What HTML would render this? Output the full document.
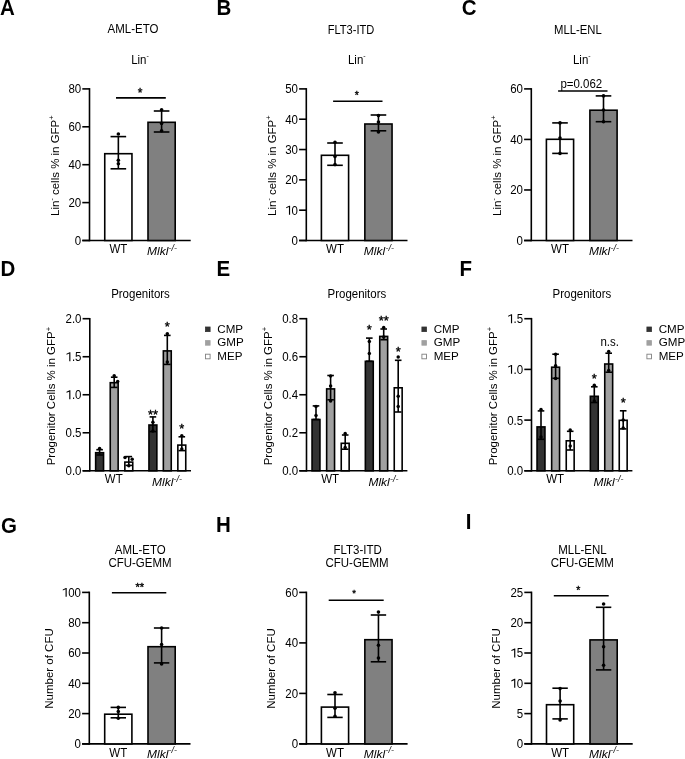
<!DOCTYPE html>
<html><head><meta charset="utf-8"><style>
html,body{margin:0;padding:0;background:#fff;}
svg{display:block;}
#wrap{will-change:transform;width:685px;height:759px;}
text{font-family:"Liberation Sans", sans-serif;fill:#000;}
</style></head><body>
<div id="wrap"><svg width="685" height="759" viewBox="0 0 685 759">
<rect x="0" y="0" width="685" height="759" fill="#fff"/>
<text transform="translate(0.00,14.60) scale(1,1.04)" font-size="20.5" text-anchor="start" font-weight="bold">A</text>
<text transform="translate(216.40,14.60) scale(1,1.04)" font-size="20.5" text-anchor="start" font-weight="bold">B</text>
<text transform="translate(461.80,14.60) scale(1,1.04)" font-size="20.5" text-anchor="start" font-weight="bold">C</text>
<line x1="89.50" y1="88.10" x2="89.50" y2="241.30" stroke="#000" stroke-width="1.6"/>
<line x1="82.30" y1="240.50" x2="190.70" y2="240.50" stroke="#000" stroke-width="1.6"/>
<line x1="82.30" y1="240.50" x2="89.50" y2="240.50" stroke="#000" stroke-width="1.6"/>
<text transform="translate(74.81,244.95) scale(1,1.08)" font-size="11.5" text-anchor="start" >0</text>
<line x1="82.30" y1="202.60" x2="89.50" y2="202.60" stroke="#000" stroke-width="1.6"/>
<text transform="translate(68.41,207.05) scale(1,1.08)" font-size="11.5" text-anchor="start" >2</text>
<text transform="translate(74.81,207.05) scale(1,1.08)" font-size="11.5" text-anchor="start" >0</text>
<line x1="82.30" y1="164.70" x2="89.50" y2="164.70" stroke="#000" stroke-width="1.6"/>
<text transform="translate(68.41,169.15) scale(1,1.08)" font-size="11.5" text-anchor="start" >4</text>
<text transform="translate(74.81,169.15) scale(1,1.08)" font-size="11.5" text-anchor="start" >0</text>
<line x1="82.30" y1="126.80" x2="89.50" y2="126.80" stroke="#000" stroke-width="1.6"/>
<text transform="translate(68.41,131.25) scale(1,1.08)" font-size="11.5" text-anchor="start" >6</text>
<text transform="translate(74.81,131.25) scale(1,1.08)" font-size="11.5" text-anchor="start" >0</text>
<line x1="82.30" y1="88.90" x2="89.50" y2="88.90" stroke="#000" stroke-width="1.6"/>
<text transform="translate(68.41,93.35) scale(1,1.08)" font-size="11.5" text-anchor="start" >8</text>
<text transform="translate(74.81,93.35) scale(1,1.08)" font-size="11.5" text-anchor="start" >0</text>
<text transform="translate(107.60,33.00) scale(1,1.08)" font-size="11.5" text-anchor="start" >AML-ETO</text>
<text transform="translate(140.00,63.70) scale(1,1.08)" font-size="11.5" text-anchor="middle" >Lin<tspan font-size="7" dy="-5.1">-</tspan></text>
<text transform="translate(58.90,165.60) rotate(-90) scale(1,1.03)" font-size="11.5" text-anchor="middle">Lin<tspan font-size="7" dy="-4.5">-</tspan><tspan dy="4.5"> cells % in GFP</tspan><tspan font-size="7.6" dy="-4.5">+</tspan></text>
<rect x="104.75" y="153.70" width="27.20" height="86.80" fill="#ffffff" stroke="#000" stroke-width="1.6"/>
<rect x="148.00" y="122.30" width="27.20" height="118.20" fill="#808080" stroke="#000" stroke-width="1.6"/>
<line x1="118.35" y1="136.60" x2="118.35" y2="168.80" stroke="#000" stroke-width="1.6"/>
<line x1="110.55" y1="136.60" x2="126.15" y2="136.60" stroke="#000" stroke-width="1.6"/>
<line x1="110.55" y1="168.80" x2="126.15" y2="168.80" stroke="#000" stroke-width="1.6"/>
<line x1="161.60" y1="111.00" x2="161.60" y2="132.00" stroke="#000" stroke-width="1.6"/>
<line x1="153.80" y1="111.00" x2="169.40" y2="111.00" stroke="#000" stroke-width="1.6"/>
<line x1="153.80" y1="132.00" x2="169.40" y2="132.00" stroke="#000" stroke-width="1.6"/>
<circle cx="118.35" cy="134.00" r="1.8" fill="#000"/>
<circle cx="118.35" cy="160.20" r="1.8" fill="#000"/>
<circle cx="118.35" cy="163.70" r="1.8" fill="#000"/>
<circle cx="161.60" cy="109.80" r="1.8" fill="#000"/>
<circle cx="161.60" cy="123.40" r="1.8" fill="#000"/>
<circle cx="161.60" cy="130.80" r="1.8" fill="#000"/>
<text transform="translate(118.35,252.70) scale(1,1.08)" font-size="11.5" text-anchor="middle" >WT</text>
<text transform="translate(147.00,255.30) scale(1,0.95)" font-size="12" font-style="italic">Mlkl<tspan font-size="9" dy="-4.6" dx="0.3">-/-</tspan></text>
<line x1="116.00" y1="97.90" x2="165.80" y2="97.90" stroke="#000" stroke-width="1.6"/>
<text transform="translate(140.20,96.56) scale(1,1)" font-size="12" text-anchor="middle" stroke="#000" stroke-width="0.35">*</text>
<line x1="306.30" y1="88.10" x2="306.30" y2="241.30" stroke="#000" stroke-width="1.6"/>
<line x1="299.10" y1="240.50" x2="407.50" y2="240.50" stroke="#000" stroke-width="1.6"/>
<line x1="299.10" y1="240.50" x2="306.30" y2="240.50" stroke="#000" stroke-width="1.6"/>
<text transform="translate(291.61,244.95) scale(1,1.08)" font-size="11.5" text-anchor="start" >0</text>
<line x1="299.10" y1="210.18" x2="306.30" y2="210.18" stroke="#000" stroke-width="1.6"/>
<polygon points="288.95,214.63 290.10,214.63 290.10,205.74 289.29,205.74 286.19,207.18 286.19,208.27 288.95,207.08" fill="#000"/>
<text transform="translate(291.61,214.63) scale(1,1.08)" font-size="11.5" text-anchor="start" >0</text>
<line x1="299.10" y1="179.86" x2="306.30" y2="179.86" stroke="#000" stroke-width="1.6"/>
<text transform="translate(285.21,184.31) scale(1,1.08)" font-size="11.5" text-anchor="start" >2</text>
<text transform="translate(291.61,184.31) scale(1,1.08)" font-size="11.5" text-anchor="start" >0</text>
<line x1="299.10" y1="149.54" x2="306.30" y2="149.54" stroke="#000" stroke-width="1.6"/>
<text transform="translate(285.21,153.99) scale(1,1.08)" font-size="11.5" text-anchor="start" >3</text>
<text transform="translate(291.61,153.99) scale(1,1.08)" font-size="11.5" text-anchor="start" >0</text>
<line x1="299.10" y1="119.22" x2="306.30" y2="119.22" stroke="#000" stroke-width="1.6"/>
<text transform="translate(285.21,123.67) scale(1,1.08)" font-size="11.5" text-anchor="start" >4</text>
<text transform="translate(291.61,123.67) scale(1,1.08)" font-size="11.5" text-anchor="start" >0</text>
<line x1="299.10" y1="88.90" x2="306.30" y2="88.90" stroke="#000" stroke-width="1.6"/>
<text transform="translate(285.21,93.35) scale(1,1.08)" font-size="11.5" text-anchor="start" >5</text>
<text transform="translate(291.61,93.35) scale(1,1.08)" font-size="11.5" text-anchor="start" >0</text>
<text transform="translate(327.70,33.80) scale(1,1.08)" font-size="11.1" text-anchor="start" >FLT3-ITD</text>
<text transform="translate(356.80,63.70) scale(1,1.08)" font-size="11.5" text-anchor="middle" >Lin<tspan font-size="7" dy="-5.1">-</tspan></text>
<text transform="translate(275.70,165.60) rotate(-90) scale(1,1.03)" font-size="11.5" text-anchor="middle">Lin<tspan font-size="7" dy="-4.5">-</tspan><tspan dy="4.5"> cells % in GFP</tspan><tspan font-size="7.6" dy="-4.5">+</tspan></text>
<rect x="321.40" y="155.30" width="27.20" height="85.20" fill="#ffffff" stroke="#000" stroke-width="1.6"/>
<rect x="364.85" y="124.00" width="27.20" height="116.50" fill="#808080" stroke="#000" stroke-width="1.6"/>
<line x1="335.00" y1="143.00" x2="335.00" y2="165.30" stroke="#000" stroke-width="1.6"/>
<line x1="327.20" y1="143.00" x2="342.80" y2="143.00" stroke="#000" stroke-width="1.6"/>
<line x1="327.20" y1="165.30" x2="342.80" y2="165.30" stroke="#000" stroke-width="1.6"/>
<line x1="378.45" y1="115.00" x2="378.45" y2="130.80" stroke="#000" stroke-width="1.6"/>
<line x1="370.65" y1="115.00" x2="386.25" y2="115.00" stroke="#000" stroke-width="1.6"/>
<line x1="370.65" y1="130.80" x2="386.25" y2="130.80" stroke="#000" stroke-width="1.6"/>
<circle cx="335.00" cy="142.20" r="1.8" fill="#000"/>
<circle cx="335.00" cy="156.60" r="1.8" fill="#000"/>
<circle cx="335.00" cy="164.60" r="1.8" fill="#000"/>
<circle cx="378.45" cy="115.60" r="1.8" fill="#000"/>
<circle cx="378.45" cy="122.00" r="1.8" fill="#000"/>
<circle cx="378.45" cy="131.90" r="1.8" fill="#000"/>
<text transform="translate(335.00,252.70) scale(1,1.08)" font-size="11.5" text-anchor="middle" >WT</text>
<text transform="translate(363.85,255.30) scale(1,0.95)" font-size="12" font-style="italic">Mlkl<tspan font-size="9" dy="-4.6" dx="0.3">-/-</tspan></text>
<line x1="333.10" y1="101.30" x2="382.50" y2="101.30" stroke="#000" stroke-width="1.6"/>
<text transform="translate(356.90,98.69) scale(1,1)" font-size="10.5" text-anchor="middle" stroke="#000" stroke-width="0.35">*</text>
<line x1="531.30" y1="88.10" x2="531.30" y2="241.30" stroke="#000" stroke-width="1.6"/>
<line x1="524.10" y1="240.50" x2="632.50" y2="240.50" stroke="#000" stroke-width="1.6"/>
<line x1="524.10" y1="240.50" x2="531.30" y2="240.50" stroke="#000" stroke-width="1.6"/>
<text transform="translate(516.61,244.95) scale(1,1.08)" font-size="11.5" text-anchor="start" >0</text>
<line x1="524.10" y1="189.97" x2="531.30" y2="189.97" stroke="#000" stroke-width="1.6"/>
<text transform="translate(510.21,194.42) scale(1,1.08)" font-size="11.5" text-anchor="start" >2</text>
<text transform="translate(516.61,194.42) scale(1,1.08)" font-size="11.5" text-anchor="start" >0</text>
<line x1="524.10" y1="139.43" x2="531.30" y2="139.43" stroke="#000" stroke-width="1.6"/>
<text transform="translate(510.21,143.88) scale(1,1.08)" font-size="11.5" text-anchor="start" >4</text>
<text transform="translate(516.61,143.88) scale(1,1.08)" font-size="11.5" text-anchor="start" >0</text>
<line x1="524.10" y1="88.90" x2="531.30" y2="88.90" stroke="#000" stroke-width="1.6"/>
<text transform="translate(510.21,93.35) scale(1,1.08)" font-size="11.5" text-anchor="start" >6</text>
<text transform="translate(516.61,93.35) scale(1,1.08)" font-size="11.5" text-anchor="start" >0</text>
<text transform="translate(554.00,33.70) scale(1,1.08)" font-size="11.3" text-anchor="start" >MLL-ENL</text>
<text transform="translate(581.80,63.70) scale(1,1.08)" font-size="11.5" text-anchor="middle" >Lin<tspan font-size="7" dy="-5.1">-</tspan></text>
<text transform="translate(500.70,165.60) rotate(-90) scale(1,1.03)" font-size="11.5" text-anchor="middle">Lin<tspan font-size="7" dy="-4.5">-</tspan><tspan dy="4.5"> cells % in GFP</tspan><tspan font-size="7.6" dy="-4.5">+</tspan></text>
<rect x="546.40" y="139.30" width="27.20" height="101.20" fill="#ffffff" stroke="#000" stroke-width="1.6"/>
<rect x="589.90" y="110.20" width="27.20" height="130.30" fill="#808080" stroke="#000" stroke-width="1.6"/>
<line x1="560.00" y1="122.90" x2="560.00" y2="153.40" stroke="#000" stroke-width="1.6"/>
<line x1="552.20" y1="122.90" x2="567.80" y2="122.90" stroke="#000" stroke-width="1.6"/>
<line x1="552.20" y1="153.40" x2="567.80" y2="153.40" stroke="#000" stroke-width="1.6"/>
<line x1="603.50" y1="95.90" x2="603.50" y2="121.70" stroke="#000" stroke-width="1.6"/>
<line x1="595.70" y1="95.90" x2="611.30" y2="95.90" stroke="#000" stroke-width="1.6"/>
<line x1="595.70" y1="121.70" x2="611.30" y2="121.70" stroke="#000" stroke-width="1.6"/>
<circle cx="560.00" cy="122.90" r="1.8" fill="#000"/>
<circle cx="560.00" cy="138.00" r="1.8" fill="#000"/>
<circle cx="560.00" cy="153.40" r="1.8" fill="#000"/>
<circle cx="603.50" cy="95.90" r="1.8" fill="#000"/>
<circle cx="603.50" cy="110.00" r="1.8" fill="#000"/>
<circle cx="603.50" cy="121.70" r="1.8" fill="#000"/>
<text transform="translate(560.00,252.70) scale(1,1.08)" font-size="11.5" text-anchor="middle" >WT</text>
<text transform="translate(588.90,255.30) scale(1,0.95)" font-size="12" font-style="italic">Mlkl<tspan font-size="9" dy="-4.6" dx="0.3">-/-</tspan></text>
<line x1="558.10" y1="91.00" x2="607.50" y2="91.00" stroke="#000" stroke-width="1.6"/>
<text transform="translate(581.30,88.30) scale(1,1.08)" font-size="11.5" text-anchor="middle" >p=0.062</text>
<text transform="translate(0.40,276.00) scale(1,1.04)" font-size="20.5" text-anchor="start" font-weight="bold">D</text>
<text transform="translate(216.50,276.30) scale(1,1.04)" font-size="20.5" text-anchor="start" font-weight="bold">E</text>
<text transform="translate(459.60,276.30) scale(1,1.04)" font-size="20.5" text-anchor="start" font-weight="bold">F</text>
<line x1="89.80" y1="317.90" x2="89.80" y2="471.60" stroke="#000" stroke-width="1.6"/>
<line x1="82.60" y1="470.80" x2="191.00" y2="470.80" stroke="#000" stroke-width="1.6"/>
<line x1="82.60" y1="470.80" x2="89.80" y2="470.80" stroke="#000" stroke-width="1.6"/>
<text transform="translate(65.52,475.25) scale(1,1.08)" font-size="11.5" text-anchor="start" >0</text>
<text transform="translate(71.91,475.25) scale(1,1.08)" font-size="11.5" text-anchor="start" >.</text>
<text transform="translate(75.11,475.25) scale(1,1.08)" font-size="11.5" text-anchor="start" >0</text>
<line x1="82.60" y1="432.77" x2="89.80" y2="432.77" stroke="#000" stroke-width="1.6"/>
<text transform="translate(65.52,437.22) scale(1,1.08)" font-size="11.5" text-anchor="start" >0</text>
<text transform="translate(71.91,437.22) scale(1,1.08)" font-size="11.5" text-anchor="start" >.</text>
<text transform="translate(75.11,437.22) scale(1,1.08)" font-size="11.5" text-anchor="start" >5</text>
<line x1="82.60" y1="394.75" x2="89.80" y2="394.75" stroke="#000" stroke-width="1.6"/>
<polygon points="69.25,399.20 70.40,399.20 70.40,390.31 69.60,390.31 66.49,391.75 66.49,392.84 69.25,391.65" fill="#000"/>
<text transform="translate(71.91,399.20) scale(1,1.08)" font-size="11.5" text-anchor="start" >.</text>
<text transform="translate(75.11,399.20) scale(1,1.08)" font-size="11.5" text-anchor="start" >0</text>
<line x1="82.60" y1="356.73" x2="89.80" y2="356.73" stroke="#000" stroke-width="1.6"/>
<polygon points="69.25,361.18 70.40,361.18 70.40,352.28 69.60,352.28 66.49,353.72 66.49,354.82 69.25,353.62" fill="#000"/>
<text transform="translate(71.91,361.18) scale(1,1.08)" font-size="11.5" text-anchor="start" >.</text>
<text transform="translate(75.11,361.18) scale(1,1.08)" font-size="11.5" text-anchor="start" >5</text>
<line x1="82.60" y1="318.70" x2="89.80" y2="318.70" stroke="#000" stroke-width="1.6"/>
<text transform="translate(65.52,323.15) scale(1,1.08)" font-size="11.5" text-anchor="start" >2</text>
<text transform="translate(71.91,323.15) scale(1,1.08)" font-size="11.5" text-anchor="start" >.</text>
<text transform="translate(75.11,323.15) scale(1,1.08)" font-size="11.5" text-anchor="start" >0</text>
<text transform="translate(140.50,298.00) scale(1,1.08)" font-size="11.5" text-anchor="middle" >Progenitors</text>
<text transform="translate(55.30,396.10) rotate(-90) scale(1,1.03)" font-size="11.5" text-anchor="middle">Progenitor Cells % in GFP<tspan font-size="7.6" dy="-4.5">+</tspan></text>
<rect x="95.65" y="452.70" width="7.90" height="18.10" fill="#333333" stroke="#000" stroke-width="1.6"/>
<rect x="110.25" y="382.70" width="7.90" height="88.10" fill="#a0a0a0" stroke="#000" stroke-width="1.6"/>
<rect x="124.85" y="462.10" width="7.90" height="8.70" fill="#ffffff" stroke="#000" stroke-width="1.6"/>
<rect x="148.95" y="425.00" width="7.90" height="45.80" fill="#333333" stroke="#000" stroke-width="1.6"/>
<rect x="163.35" y="350.90" width="7.90" height="119.90" fill="#a0a0a0" stroke="#000" stroke-width="1.6"/>
<rect x="177.85" y="445.10" width="7.90" height="25.70" fill="#ffffff" stroke="#000" stroke-width="1.6"/>
<line x1="99.60" y1="449.70" x2="99.60" y2="455.00" stroke="#000" stroke-width="1.6"/>
<line x1="96.30" y1="449.70" x2="102.90" y2="449.70" stroke="#000" stroke-width="1.6"/>
<line x1="96.30" y1="455.00" x2="102.90" y2="455.00" stroke="#000" stroke-width="1.6"/>
<circle cx="99.60" cy="448.40" r="1.75" fill="#000"/>
<line x1="114.20" y1="377.20" x2="114.20" y2="387.40" stroke="#000" stroke-width="1.6"/>
<line x1="110.90" y1="377.20" x2="117.50" y2="377.20" stroke="#000" stroke-width="1.6"/>
<line x1="110.90" y1="387.40" x2="117.50" y2="387.40" stroke="#000" stroke-width="1.6"/>
<circle cx="114.20" cy="375.70" r="1.75" fill="#000"/>
<circle cx="117.70" cy="381.50" r="1.75" fill="#000"/>
<line x1="128.80" y1="456.60" x2="128.80" y2="465.40" stroke="#000" stroke-width="1.6"/>
<line x1="125.50" y1="456.60" x2="132.10" y2="456.60" stroke="#000" stroke-width="1.6"/>
<line x1="125.50" y1="465.40" x2="132.10" y2="465.40" stroke="#000" stroke-width="1.6"/>
<circle cx="125.00" cy="457.40" r="1.75" fill="#000"/>
<circle cx="132.20" cy="459.20" r="1.75" fill="#000"/>
<circle cx="128.80" cy="465.80" r="1.75" fill="#000"/>
<line x1="152.90" y1="416.90" x2="152.90" y2="431.60" stroke="#000" stroke-width="1.6"/>
<line x1="149.60" y1="416.90" x2="156.20" y2="416.90" stroke="#000" stroke-width="1.6"/>
<line x1="149.60" y1="431.60" x2="156.20" y2="431.60" stroke="#000" stroke-width="1.6"/>
<circle cx="152.90" cy="422.20" r="1.75" fill="#000"/>
<circle cx="152.90" cy="431.00" r="1.75" fill="#000"/>
<text transform="translate(152.90,418.77) scale(1,1)" font-size="12.8" text-anchor="middle" stroke="#000" stroke-width="0.35">**</text>
<line x1="167.30" y1="335.40" x2="167.30" y2="364.40" stroke="#000" stroke-width="1.6"/>
<line x1="164.00" y1="335.40" x2="170.60" y2="335.40" stroke="#000" stroke-width="1.6"/>
<line x1="164.00" y1="364.40" x2="170.60" y2="364.40" stroke="#000" stroke-width="1.6"/>
<circle cx="167.30" cy="333.80" r="1.75" fill="#000"/>
<circle cx="167.30" cy="362.00" r="1.75" fill="#000"/>
<text transform="translate(167.30,331.07) scale(1,1)" font-size="12.8" text-anchor="middle" stroke="#000" stroke-width="0.35">*</text>
<line x1="181.80" y1="436.80" x2="181.80" y2="450.60" stroke="#000" stroke-width="1.6"/>
<line x1="178.50" y1="436.80" x2="185.10" y2="436.80" stroke="#000" stroke-width="1.6"/>
<line x1="178.50" y1="450.60" x2="185.10" y2="450.60" stroke="#000" stroke-width="1.6"/>
<circle cx="181.80" cy="435.70" r="1.75" fill="#000"/>
<circle cx="181.80" cy="449.00" r="1.75" fill="#000"/>
<text transform="translate(181.80,433.47) scale(1,1)" font-size="12.8" text-anchor="middle" stroke="#000" stroke-width="0.35">*</text>
<text transform="translate(113.80,483.20) scale(1,1.08)" font-size="11.5" text-anchor="middle" >WT</text>
<text transform="translate(152.00,486.00) scale(1,0.95)" font-size="12" font-style="italic">Mlkl<tspan font-size="9" dy="-4.6" dx="0.3">-/-</tspan></text>
<rect x="205.50" y="327.00" width="4.60" height="4.60" fill="#333333" stroke="#333333" stroke-width="0.8"/>
<rect x="205.50" y="340.60" width="4.60" height="4.60" fill="#a0a0a0" stroke="#a0a0a0" stroke-width="0.8"/>
<rect x="205.50" y="354.20" width="4.60" height="4.60" fill="#ffffff" stroke="#808080" stroke-width="0.9"/>
<text transform="translate(217.30,332.50) scale(1,1.0)" font-size="11.6" text-anchor="start" >CMP</text>
<text transform="translate(217.30,346.10) scale(1,1.0)" font-size="11.6" text-anchor="start" >GMP</text>
<text transform="translate(217.30,359.60) scale(1,1.0)" font-size="11.6" text-anchor="start" >MEP</text>
<line x1="306.50" y1="317.90" x2="306.50" y2="471.60" stroke="#000" stroke-width="1.6"/>
<line x1="299.30" y1="470.80" x2="407.40" y2="470.80" stroke="#000" stroke-width="1.6"/>
<line x1="299.30" y1="470.80" x2="306.50" y2="470.80" stroke="#000" stroke-width="1.6"/>
<text transform="translate(282.21,475.25) scale(1,1.08)" font-size="11.5" text-anchor="start" >0</text>
<text transform="translate(288.61,475.25) scale(1,1.08)" font-size="11.5" text-anchor="start" >.</text>
<text transform="translate(291.81,475.25) scale(1,1.08)" font-size="11.5" text-anchor="start" >0</text>
<line x1="299.30" y1="432.77" x2="306.50" y2="432.77" stroke="#000" stroke-width="1.6"/>
<text transform="translate(282.21,437.22) scale(1,1.08)" font-size="11.5" text-anchor="start" >0</text>
<text transform="translate(288.61,437.22) scale(1,1.08)" font-size="11.5" text-anchor="start" >.</text>
<text transform="translate(291.81,437.22) scale(1,1.08)" font-size="11.5" text-anchor="start" >2</text>
<line x1="299.30" y1="394.75" x2="306.50" y2="394.75" stroke="#000" stroke-width="1.6"/>
<text transform="translate(282.21,399.20) scale(1,1.08)" font-size="11.5" text-anchor="start" >0</text>
<text transform="translate(288.61,399.20) scale(1,1.08)" font-size="11.5" text-anchor="start" >.</text>
<text transform="translate(291.81,399.20) scale(1,1.08)" font-size="11.5" text-anchor="start" >4</text>
<line x1="299.30" y1="356.73" x2="306.50" y2="356.73" stroke="#000" stroke-width="1.6"/>
<text transform="translate(282.21,361.18) scale(1,1.08)" font-size="11.5" text-anchor="start" >0</text>
<text transform="translate(288.61,361.18) scale(1,1.08)" font-size="11.5" text-anchor="start" >.</text>
<text transform="translate(291.81,361.18) scale(1,1.08)" font-size="11.5" text-anchor="start" >6</text>
<line x1="299.30" y1="318.70" x2="306.50" y2="318.70" stroke="#000" stroke-width="1.6"/>
<text transform="translate(282.21,323.15) scale(1,1.08)" font-size="11.5" text-anchor="start" >0</text>
<text transform="translate(288.61,323.15) scale(1,1.08)" font-size="11.5" text-anchor="start" >.</text>
<text transform="translate(291.81,323.15) scale(1,1.08)" font-size="11.5" text-anchor="start" >8</text>
<text transform="translate(356.90,298.00) scale(1,1.08)" font-size="11.5" text-anchor="middle" >Progenitors</text>
<text transform="translate(271.70,396.10) rotate(-90) scale(1,1.03)" font-size="11.5" text-anchor="middle">Progenitor Cells % in GFP<tspan font-size="7.6" dy="-4.5">+</tspan></text>
<rect x="312.05" y="419.50" width="7.90" height="51.30" fill="#333333" stroke="#000" stroke-width="1.6"/>
<rect x="326.65" y="388.90" width="7.90" height="81.90" fill="#a0a0a0" stroke="#000" stroke-width="1.6"/>
<rect x="341.25" y="443.30" width="7.90" height="27.50" fill="#ffffff" stroke="#000" stroke-width="1.6"/>
<rect x="365.35" y="361.30" width="7.90" height="109.50" fill="#333333" stroke="#000" stroke-width="1.6"/>
<rect x="379.75" y="336.40" width="7.90" height="134.40" fill="#a0a0a0" stroke="#000" stroke-width="1.6"/>
<rect x="394.25" y="387.80" width="7.90" height="83.00" fill="#ffffff" stroke="#000" stroke-width="1.6"/>
<line x1="316.00" y1="405.90" x2="316.00" y2="419.50" stroke="#000" stroke-width="1.6"/>
<line x1="312.70" y1="405.90" x2="319.30" y2="405.90" stroke="#000" stroke-width="1.6"/>
<line x1="312.70" y1="419.50" x2="319.30" y2="419.50" stroke="#000" stroke-width="1.6"/>
<circle cx="316.00" cy="406.60" r="1.75" fill="#000"/>
<circle cx="316.00" cy="415.60" r="1.75" fill="#000"/>
<line x1="330.60" y1="375.50" x2="330.60" y2="399.80" stroke="#000" stroke-width="1.6"/>
<line x1="327.30" y1="375.50" x2="333.90" y2="375.50" stroke="#000" stroke-width="1.6"/>
<line x1="327.30" y1="399.80" x2="333.90" y2="399.80" stroke="#000" stroke-width="1.6"/>
<circle cx="330.60" cy="375.90" r="1.75" fill="#000"/>
<circle cx="330.60" cy="386.00" r="1.75" fill="#000"/>
<circle cx="330.60" cy="401.00" r="1.75" fill="#000"/>
<line x1="345.20" y1="435.00" x2="345.20" y2="449.20" stroke="#000" stroke-width="1.6"/>
<line x1="341.90" y1="435.00" x2="348.50" y2="435.00" stroke="#000" stroke-width="1.6"/>
<line x1="341.90" y1="449.20" x2="348.50" y2="449.20" stroke="#000" stroke-width="1.6"/>
<circle cx="345.20" cy="433.60" r="1.75" fill="#000"/>
<circle cx="345.20" cy="447.40" r="1.75" fill="#000"/>
<line x1="369.30" y1="338.10" x2="369.30" y2="361.30" stroke="#000" stroke-width="1.6"/>
<line x1="366.00" y1="338.10" x2="372.60" y2="338.10" stroke="#000" stroke-width="1.6"/>
<line x1="366.00" y1="361.30" x2="372.60" y2="361.30" stroke="#000" stroke-width="1.6"/>
<circle cx="369.30" cy="341.60" r="1.75" fill="#000"/>
<circle cx="369.30" cy="353.40" r="1.75" fill="#000"/>
<text transform="translate(369.30,334.27) scale(1,1)" font-size="12.8" text-anchor="middle" stroke="#000" stroke-width="0.35">*</text>
<line x1="383.70" y1="329.00" x2="383.70" y2="339.70" stroke="#000" stroke-width="1.6"/>
<line x1="380.40" y1="329.00" x2="387.00" y2="329.00" stroke="#000" stroke-width="1.6"/>
<line x1="380.40" y1="339.70" x2="387.00" y2="339.70" stroke="#000" stroke-width="1.6"/>
<circle cx="383.70" cy="327.50" r="1.75" fill="#000"/>
<circle cx="383.70" cy="337.00" r="1.75" fill="#000"/>
<text transform="translate(383.70,324.97) scale(1,1)" font-size="12.8" text-anchor="middle" stroke="#000" stroke-width="0.35">**</text>
<line x1="398.20" y1="360.30" x2="398.20" y2="412.00" stroke="#000" stroke-width="1.6"/>
<line x1="394.90" y1="360.30" x2="401.50" y2="360.30" stroke="#000" stroke-width="1.6"/>
<line x1="394.90" y1="412.00" x2="401.50" y2="412.00" stroke="#000" stroke-width="1.6"/>
<circle cx="398.20" cy="357.00" r="1.75" fill="#000"/>
<circle cx="398.20" cy="396.20" r="1.75" fill="#000"/>
<circle cx="398.20" cy="406.40" r="1.75" fill="#000"/>
<text transform="translate(398.20,355.87) scale(1,1)" font-size="12.8" text-anchor="middle" stroke="#000" stroke-width="0.35">*</text>
<text transform="translate(330.20,483.20) scale(1,1.08)" font-size="11.5" text-anchor="middle" >WT</text>
<text transform="translate(368.40,486.00) scale(1,0.95)" font-size="12" font-style="italic">Mlkl<tspan font-size="9" dy="-4.6" dx="0.3">-/-</tspan></text>
<rect x="421.90" y="327.00" width="4.60" height="4.60" fill="#333333" stroke="#333333" stroke-width="0.8"/>
<rect x="421.90" y="340.60" width="4.60" height="4.60" fill="#a0a0a0" stroke="#a0a0a0" stroke-width="0.8"/>
<rect x="421.90" y="354.20" width="4.60" height="4.60" fill="#ffffff" stroke="#808080" stroke-width="0.9"/>
<text transform="translate(433.70,332.50) scale(1,1.0)" font-size="11.6" text-anchor="start" >CMP</text>
<text transform="translate(433.70,346.10) scale(1,1.0)" font-size="11.6" text-anchor="start" >GMP</text>
<text transform="translate(433.70,359.60) scale(1,1.0)" font-size="11.6" text-anchor="start" >MEP</text>
<line x1="531.50" y1="317.90" x2="531.50" y2="471.60" stroke="#000" stroke-width="1.6"/>
<line x1="524.30" y1="470.80" x2="632.40" y2="470.80" stroke="#000" stroke-width="1.6"/>
<line x1="524.30" y1="470.80" x2="531.50" y2="470.80" stroke="#000" stroke-width="1.6"/>
<text transform="translate(507.22,475.25) scale(1,1.08)" font-size="11.5" text-anchor="start" >0</text>
<text transform="translate(513.61,475.25) scale(1,1.08)" font-size="11.5" text-anchor="start" >.</text>
<text transform="translate(516.81,475.25) scale(1,1.08)" font-size="11.5" text-anchor="start" >0</text>
<line x1="524.30" y1="420.10" x2="531.50" y2="420.10" stroke="#000" stroke-width="1.6"/>
<text transform="translate(507.22,424.55) scale(1,1.08)" font-size="11.5" text-anchor="start" >0</text>
<text transform="translate(513.61,424.55) scale(1,1.08)" font-size="11.5" text-anchor="start" >.</text>
<text transform="translate(516.81,424.55) scale(1,1.08)" font-size="11.5" text-anchor="start" >5</text>
<line x1="524.30" y1="369.40" x2="531.50" y2="369.40" stroke="#000" stroke-width="1.6"/>
<polygon points="510.95,373.85 512.10,373.85 512.10,364.96 511.30,364.96 508.19,366.40 508.19,367.49 510.95,366.30" fill="#000"/>
<text transform="translate(513.61,373.85) scale(1,1.08)" font-size="11.5" text-anchor="start" >.</text>
<text transform="translate(516.81,373.85) scale(1,1.08)" font-size="11.5" text-anchor="start" >0</text>
<line x1="524.30" y1="318.70" x2="531.50" y2="318.70" stroke="#000" stroke-width="1.6"/>
<polygon points="510.95,323.15 512.10,323.15 512.10,314.26 511.30,314.26 508.19,315.70 508.19,316.79 510.95,315.60" fill="#000"/>
<text transform="translate(513.61,323.15) scale(1,1.08)" font-size="11.5" text-anchor="start" >.</text>
<text transform="translate(516.81,323.15) scale(1,1.08)" font-size="11.5" text-anchor="start" >5</text>
<text transform="translate(581.90,298.00) scale(1,1.08)" font-size="11.5" text-anchor="middle" >Progenitors</text>
<text transform="translate(496.70,396.10) rotate(-90) scale(1,1.03)" font-size="11.5" text-anchor="middle">Progenitor Cells % in GFP<tspan font-size="7.6" dy="-4.5">+</tspan></text>
<rect x="537.05" y="426.90" width="7.90" height="43.90" fill="#333333" stroke="#000" stroke-width="1.6"/>
<rect x="551.65" y="367.20" width="7.90" height="103.60" fill="#a0a0a0" stroke="#000" stroke-width="1.6"/>
<rect x="566.25" y="440.80" width="7.90" height="30.00" fill="#ffffff" stroke="#000" stroke-width="1.6"/>
<rect x="590.35" y="396.30" width="7.90" height="74.50" fill="#333333" stroke="#000" stroke-width="1.6"/>
<rect x="604.75" y="364.00" width="7.90" height="106.80" fill="#a0a0a0" stroke="#000" stroke-width="1.6"/>
<rect x="619.25" y="420.30" width="7.90" height="50.50" fill="#ffffff" stroke="#000" stroke-width="1.6"/>
<line x1="541.00" y1="410.90" x2="541.00" y2="439.30" stroke="#000" stroke-width="1.6"/>
<line x1="537.70" y1="410.90" x2="544.30" y2="410.90" stroke="#000" stroke-width="1.6"/>
<line x1="537.70" y1="439.30" x2="544.30" y2="439.30" stroke="#000" stroke-width="1.6"/>
<circle cx="541.00" cy="409.50" r="1.75" fill="#000"/>
<circle cx="541.00" cy="437.00" r="1.75" fill="#000"/>
<line x1="555.60" y1="354.20" x2="555.60" y2="378.30" stroke="#000" stroke-width="1.6"/>
<line x1="552.30" y1="354.20" x2="558.90" y2="354.20" stroke="#000" stroke-width="1.6"/>
<line x1="552.30" y1="378.30" x2="558.90" y2="378.30" stroke="#000" stroke-width="1.6"/>
<circle cx="555.60" cy="354.20" r="1.75" fill="#000"/>
<circle cx="555.60" cy="365.80" r="1.75" fill="#000"/>
<circle cx="555.60" cy="378.60" r="1.75" fill="#000"/>
<line x1="570.20" y1="431.30" x2="570.20" y2="450.00" stroke="#000" stroke-width="1.6"/>
<line x1="566.90" y1="431.30" x2="573.50" y2="431.30" stroke="#000" stroke-width="1.6"/>
<line x1="566.90" y1="450.00" x2="573.50" y2="450.00" stroke="#000" stroke-width="1.6"/>
<circle cx="570.20" cy="430.00" r="1.75" fill="#000"/>
<circle cx="570.20" cy="446.00" r="1.75" fill="#000"/>
<line x1="594.30" y1="386.80" x2="594.30" y2="402.50" stroke="#000" stroke-width="1.6"/>
<line x1="591.00" y1="386.80" x2="597.60" y2="386.80" stroke="#000" stroke-width="1.6"/>
<line x1="591.00" y1="402.50" x2="597.60" y2="402.50" stroke="#000" stroke-width="1.6"/>
<circle cx="594.30" cy="385.20" r="1.75" fill="#000"/>
<circle cx="594.30" cy="401.00" r="1.75" fill="#000"/>
<text transform="translate(594.30,382.77) scale(1,1)" font-size="12.8" text-anchor="middle" stroke="#000" stroke-width="0.35">*</text>
<line x1="608.70" y1="353.20" x2="608.70" y2="372.20" stroke="#000" stroke-width="1.6"/>
<line x1="605.40" y1="353.20" x2="612.00" y2="353.20" stroke="#000" stroke-width="1.6"/>
<line x1="605.40" y1="372.20" x2="612.00" y2="372.20" stroke="#000" stroke-width="1.6"/>
<circle cx="608.70" cy="351.60" r="1.75" fill="#000"/>
<circle cx="608.70" cy="370.50" r="1.75" fill="#000"/>
<text transform="translate(609.70,346.30) scale(1,1.08)" font-size="11.5" text-anchor="middle" >n.s.</text>
<line x1="623.20" y1="410.80" x2="623.20" y2="428.90" stroke="#000" stroke-width="1.6"/>
<line x1="619.90" y1="410.80" x2="626.50" y2="410.80" stroke="#000" stroke-width="1.6"/>
<line x1="619.90" y1="428.90" x2="626.50" y2="428.90" stroke="#000" stroke-width="1.6"/>
<circle cx="623.20" cy="420.00" r="1.75" fill="#000"/>
<circle cx="623.20" cy="428.00" r="1.75" fill="#000"/>
<text transform="translate(623.20,407.27) scale(1,1)" font-size="12.8" text-anchor="middle" stroke="#000" stroke-width="0.35">*</text>
<text transform="translate(555.20,483.20) scale(1,1.08)" font-size="11.5" text-anchor="middle" >WT</text>
<text transform="translate(593.40,486.00) scale(1,0.95)" font-size="12" font-style="italic">Mlkl<tspan font-size="9" dy="-4.6" dx="0.3">-/-</tspan></text>
<rect x="646.90" y="327.00" width="4.60" height="4.60" fill="#333333" stroke="#333333" stroke-width="0.8"/>
<rect x="646.90" y="340.60" width="4.60" height="4.60" fill="#a0a0a0" stroke="#a0a0a0" stroke-width="0.8"/>
<rect x="646.90" y="354.20" width="4.60" height="4.60" fill="#ffffff" stroke="#808080" stroke-width="0.9"/>
<text transform="translate(658.70,332.50) scale(1,1.0)" font-size="11.6" text-anchor="start" >CMP</text>
<text transform="translate(658.70,346.10) scale(1,1.0)" font-size="11.6" text-anchor="start" >GMP</text>
<text transform="translate(658.70,359.60) scale(1,1.0)" font-size="11.6" text-anchor="start" >MEP</text>
<text transform="translate(1.00,532.60) scale(1,1.04)" font-size="20.5" text-anchor="start" font-weight="bold">G</text>
<text transform="translate(216.00,532.00) scale(1,1.04)" font-size="20.5" text-anchor="start" font-weight="bold">H</text>
<text transform="translate(465.80,528.70) scale(1,1.04)" font-size="20.5" text-anchor="start" font-weight="bold">I</text>
<line x1="89.30" y1="591.60" x2="89.30" y2="744.70" stroke="#000" stroke-width="1.6"/>
<line x1="82.10" y1="743.90" x2="190.50" y2="743.90" stroke="#000" stroke-width="1.6"/>
<line x1="82.10" y1="743.90" x2="89.30" y2="743.90" stroke="#000" stroke-width="1.6"/>
<text transform="translate(74.61,748.35) scale(1,1.08)" font-size="11.5" text-anchor="start" >0</text>
<line x1="82.10" y1="713.60" x2="89.30" y2="713.60" stroke="#000" stroke-width="1.6"/>
<text transform="translate(68.21,718.05) scale(1,1.08)" font-size="11.5" text-anchor="start" >2</text>
<text transform="translate(74.61,718.05) scale(1,1.08)" font-size="11.5" text-anchor="start" >0</text>
<line x1="82.10" y1="683.30" x2="89.30" y2="683.30" stroke="#000" stroke-width="1.6"/>
<text transform="translate(68.21,687.75) scale(1,1.08)" font-size="11.5" text-anchor="start" >4</text>
<text transform="translate(74.61,687.75) scale(1,1.08)" font-size="11.5" text-anchor="start" >0</text>
<line x1="82.10" y1="653.00" x2="89.30" y2="653.00" stroke="#000" stroke-width="1.6"/>
<text transform="translate(68.21,657.45) scale(1,1.08)" font-size="11.5" text-anchor="start" >6</text>
<text transform="translate(74.61,657.45) scale(1,1.08)" font-size="11.5" text-anchor="start" >0</text>
<line x1="82.10" y1="622.70" x2="89.30" y2="622.70" stroke="#000" stroke-width="1.6"/>
<text transform="translate(68.21,627.15) scale(1,1.08)" font-size="11.5" text-anchor="start" >8</text>
<text transform="translate(74.61,627.15) scale(1,1.08)" font-size="11.5" text-anchor="start" >0</text>
<line x1="82.10" y1="592.40" x2="89.30" y2="592.40" stroke="#000" stroke-width="1.6"/>
<polygon points="65.56,596.85 66.71,596.85 66.71,587.96 65.90,587.96 62.80,589.40 62.80,590.49 65.56,589.30" fill="#000"/>
<text transform="translate(68.21,596.85) scale(1,1.08)" font-size="11.5" text-anchor="start" >0</text>
<text transform="translate(74.61,596.85) scale(1,1.08)" font-size="11.5" text-anchor="start" >0</text>
<text transform="translate(114.80,554.00) scale(1,1.08)" font-size="11.5" text-anchor="start" >AML-ETO</text>
<text transform="translate(108.40,567.40) scale(1,1.08)" font-size="11.5" text-anchor="start" >CFU-GEMM</text>
<text transform="translate(52.70,668.50) rotate(-90) scale(1,1.03)" font-size="11.5" text-anchor="middle">Number of CFU</text>
<rect x="104.70" y="714.20" width="27.20" height="29.70" fill="#ffffff" stroke="#000" stroke-width="1.6"/>
<rect x="148.00" y="646.70" width="27.20" height="97.20" fill="#808080" stroke="#000" stroke-width="1.6"/>
<line x1="118.30" y1="707.40" x2="118.30" y2="717.80" stroke="#000" stroke-width="1.6"/>
<line x1="110.60" y1="707.40" x2="126.00" y2="707.40" stroke="#000" stroke-width="1.6"/>
<line x1="110.60" y1="717.80" x2="126.00" y2="717.80" stroke="#000" stroke-width="1.6"/>
<line x1="161.60" y1="628.00" x2="161.60" y2="662.90" stroke="#000" stroke-width="1.6"/>
<line x1="153.90" y1="628.00" x2="169.30" y2="628.00" stroke="#000" stroke-width="1.6"/>
<line x1="153.90" y1="662.90" x2="169.30" y2="662.90" stroke="#000" stroke-width="1.6"/>
<circle cx="118.30" cy="707.40" r="1.8" fill="#000"/>
<circle cx="118.30" cy="711.50" r="1.8" fill="#000"/>
<circle cx="118.30" cy="718.20" r="1.8" fill="#000"/>
<circle cx="161.60" cy="628.00" r="1.8" fill="#000"/>
<circle cx="161.60" cy="644.50" r="1.8" fill="#000"/>
<circle cx="161.60" cy="663.90" r="1.8" fill="#000"/>
<text transform="translate(118.30,756.80) scale(1,1.08)" font-size="11.5" text-anchor="middle" >WT</text>
<text transform="translate(147.00,757.60) scale(1,0.95)" font-size="12" font-style="italic">Mlkl<tspan font-size="9" dy="-4.6" dx="0.3">-/-</tspan></text>
<line x1="111.90" y1="592.70" x2="166.30" y2="592.70" stroke="#000" stroke-width="1.6"/>
<text transform="translate(139.70,591.24) scale(1,1)" font-size="11" text-anchor="middle" stroke="#000" stroke-width="0.35">**</text>
<line x1="306.40" y1="591.60" x2="306.40" y2="744.70" stroke="#000" stroke-width="1.6"/>
<line x1="299.20" y1="743.90" x2="407.60" y2="743.90" stroke="#000" stroke-width="1.6"/>
<line x1="299.20" y1="743.90" x2="306.40" y2="743.90" stroke="#000" stroke-width="1.6"/>
<text transform="translate(291.71,748.35) scale(1,1.08)" font-size="11.5" text-anchor="start" >0</text>
<line x1="299.20" y1="693.40" x2="306.40" y2="693.40" stroke="#000" stroke-width="1.6"/>
<text transform="translate(285.31,697.85) scale(1,1.08)" font-size="11.5" text-anchor="start" >2</text>
<text transform="translate(291.71,697.85) scale(1,1.08)" font-size="11.5" text-anchor="start" >0</text>
<line x1="299.20" y1="642.90" x2="306.40" y2="642.90" stroke="#000" stroke-width="1.6"/>
<text transform="translate(285.31,647.35) scale(1,1.08)" font-size="11.5" text-anchor="start" >4</text>
<text transform="translate(291.71,647.35) scale(1,1.08)" font-size="11.5" text-anchor="start" >0</text>
<line x1="299.20" y1="592.40" x2="306.40" y2="592.40" stroke="#000" stroke-width="1.6"/>
<text transform="translate(285.31,596.85) scale(1,1.08)" font-size="11.5" text-anchor="start" >6</text>
<text transform="translate(291.71,596.85) scale(1,1.08)" font-size="11.5" text-anchor="start" >0</text>
<text transform="translate(333.50,554.00) scale(1,1.08)" font-size="11.5" text-anchor="start" >FLT3-ITD</text>
<text transform="translate(325.50,567.40) scale(1,1.08)" font-size="11.5" text-anchor="start" >CFU-GEMM</text>
<text transform="translate(275.20,668.50) rotate(-90) scale(1,1.03)" font-size="11.5" text-anchor="middle">Number of CFU</text>
<rect x="321.40" y="707.10" width="27.20" height="36.80" fill="#ffffff" stroke="#000" stroke-width="1.6"/>
<rect x="364.85" y="639.70" width="27.20" height="104.20" fill="#808080" stroke="#000" stroke-width="1.6"/>
<line x1="335.00" y1="694.50" x2="335.00" y2="717.40" stroke="#000" stroke-width="1.6"/>
<line x1="327.30" y1="694.50" x2="342.70" y2="694.50" stroke="#000" stroke-width="1.6"/>
<line x1="327.30" y1="717.40" x2="342.70" y2="717.40" stroke="#000" stroke-width="1.6"/>
<line x1="378.45" y1="615.00" x2="378.45" y2="661.80" stroke="#000" stroke-width="1.6"/>
<line x1="370.75" y1="615.00" x2="386.15" y2="615.00" stroke="#000" stroke-width="1.6"/>
<line x1="370.75" y1="661.80" x2="386.15" y2="661.80" stroke="#000" stroke-width="1.6"/>
<circle cx="335.00" cy="692.80" r="1.8" fill="#000"/>
<circle cx="335.00" cy="708.30" r="1.8" fill="#000"/>
<circle cx="335.00" cy="716.30" r="1.8" fill="#000"/>
<circle cx="378.45" cy="612.10" r="1.8" fill="#000"/>
<circle cx="378.45" cy="645.30" r="1.8" fill="#000"/>
<circle cx="378.45" cy="658.00" r="1.8" fill="#000"/>
<text transform="translate(335.00,756.80) scale(1,1.08)" font-size="11.5" text-anchor="middle" >WT</text>
<text transform="translate(363.85,757.60) scale(1,0.95)" font-size="12" font-style="italic">Mlkl<tspan font-size="9" dy="-4.6" dx="0.3">-/-</tspan></text>
<line x1="328.70" y1="600.20" x2="383.70" y2="600.20" stroke="#000" stroke-width="1.6"/>
<text transform="translate(354.00,596.47) scale(1,1)" font-size="9.5" text-anchor="middle" stroke="#000" stroke-width="0.35">*</text>
<line x1="531.50" y1="591.60" x2="531.50" y2="744.70" stroke="#000" stroke-width="1.6"/>
<line x1="524.30" y1="743.90" x2="632.70" y2="743.90" stroke="#000" stroke-width="1.6"/>
<line x1="524.30" y1="743.90" x2="531.50" y2="743.90" stroke="#000" stroke-width="1.6"/>
<text transform="translate(516.81,748.35) scale(1,1.08)" font-size="11.5" text-anchor="start" >0</text>
<line x1="524.30" y1="713.60" x2="531.50" y2="713.60" stroke="#000" stroke-width="1.6"/>
<text transform="translate(516.81,718.05) scale(1,1.08)" font-size="11.5" text-anchor="start" >5</text>
<line x1="524.30" y1="683.30" x2="531.50" y2="683.30" stroke="#000" stroke-width="1.6"/>
<polygon points="514.15,687.75 515.30,687.75 515.30,678.86 514.49,678.86 511.39,680.30 511.39,681.39 514.15,680.20" fill="#000"/>
<text transform="translate(516.81,687.75) scale(1,1.08)" font-size="11.5" text-anchor="start" >0</text>
<line x1="524.30" y1="653.00" x2="531.50" y2="653.00" stroke="#000" stroke-width="1.6"/>
<polygon points="514.15,657.45 515.30,657.45 515.30,648.56 514.49,648.56 511.39,650.00 511.39,651.09 514.15,649.90" fill="#000"/>
<text transform="translate(516.81,657.45) scale(1,1.08)" font-size="11.5" text-anchor="start" >5</text>
<line x1="524.30" y1="622.70" x2="531.50" y2="622.70" stroke="#000" stroke-width="1.6"/>
<text transform="translate(510.41,627.15) scale(1,1.08)" font-size="11.5" text-anchor="start" >2</text>
<text transform="translate(516.81,627.15) scale(1,1.08)" font-size="11.5" text-anchor="start" >0</text>
<line x1="524.30" y1="592.40" x2="531.50" y2="592.40" stroke="#000" stroke-width="1.6"/>
<text transform="translate(510.41,596.85) scale(1,1.08)" font-size="11.5" text-anchor="start" >2</text>
<text transform="translate(516.81,596.85) scale(1,1.08)" font-size="11.5" text-anchor="start" >5</text>
<text transform="translate(558.20,554.00) scale(1,1.08)" font-size="11.5" text-anchor="start" >MLL-ENL</text>
<text transform="translate(550.70,567.40) scale(1,1.08)" font-size="11.5" text-anchor="start" >CFU-GEMM</text>
<text transform="translate(500.10,668.50) rotate(-90) scale(1,1.03)" font-size="11.5" text-anchor="middle">Number of CFU</text>
<rect x="546.50" y="704.70" width="27.20" height="39.20" fill="#ffffff" stroke="#000" stroke-width="1.6"/>
<rect x="590.00" y="639.90" width="27.20" height="104.00" fill="#808080" stroke="#000" stroke-width="1.6"/>
<line x1="560.10" y1="688.20" x2="560.10" y2="718.90" stroke="#000" stroke-width="1.6"/>
<line x1="552.40" y1="688.20" x2="567.80" y2="688.20" stroke="#000" stroke-width="1.6"/>
<line x1="552.40" y1="718.90" x2="567.80" y2="718.90" stroke="#000" stroke-width="1.6"/>
<line x1="603.60" y1="607.30" x2="603.60" y2="669.90" stroke="#000" stroke-width="1.6"/>
<line x1="595.90" y1="607.30" x2="611.30" y2="607.30" stroke="#000" stroke-width="1.6"/>
<line x1="595.90" y1="669.90" x2="611.30" y2="669.90" stroke="#000" stroke-width="1.6"/>
<circle cx="560.10" cy="688.60" r="1.8" fill="#000"/>
<circle cx="560.10" cy="701.10" r="1.8" fill="#000"/>
<circle cx="560.10" cy="719.90" r="1.8" fill="#000"/>
<circle cx="603.60" cy="604.00" r="1.8" fill="#000"/>
<circle cx="603.60" cy="646.80" r="1.8" fill="#000"/>
<circle cx="603.60" cy="665.20" r="1.8" fill="#000"/>
<text transform="translate(560.10,756.80) scale(1,1.08)" font-size="11.5" text-anchor="middle" >WT</text>
<text transform="translate(589.00,757.60) scale(1,0.95)" font-size="12" font-style="italic">Mlkl<tspan font-size="9" dy="-4.6" dx="0.3">-/-</tspan></text>
<line x1="553.80" y1="595.80" x2="608.70" y2="595.80" stroke="#000" stroke-width="1.6"/>
<text transform="translate(578.30,593.89) scale(1,1)" font-size="10.5" text-anchor="middle" stroke="#000" stroke-width="0.35">*</text>
</svg></div>
</body></html>
